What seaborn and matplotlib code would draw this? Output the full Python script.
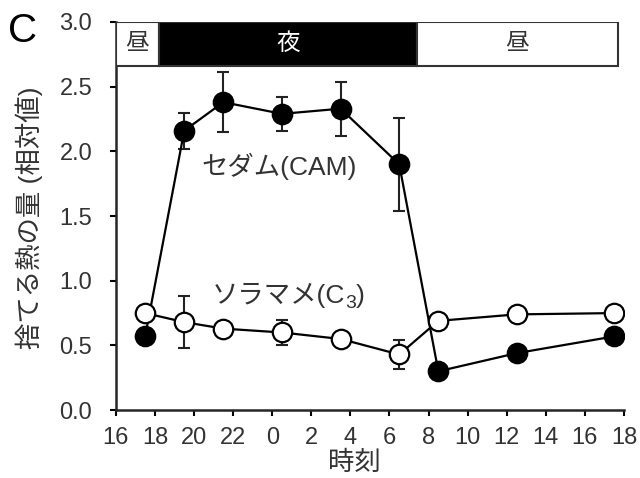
import numpy as np
import pandas as pd
import seaborn as sns
import matplotlib.pyplot as plt

# hours counted from 16:00 of day 1 (24 = midnight)
hours = [17.5, 19.5, 21.5, 24.5, 27.5, 30.5, 32.5, 36.5, 41.5]
cam = [0.57, 2.16, 2.38, 2.29, 2.33, 1.90, 0.30, 0.44, 0.57]
cam_err = [0, 0.14, 0.23, 0.13, 0.21, 0.36, 0, 0, 0]
c3 = [0.75, 0.68, 0.63, 0.60, 0.55, 0.43, 0.69, 0.74, 0.75]
c3_err = [0, 0.20, 0, 0.10, 0, 0.11, 0, 0, 0]

xticks = list(range(16, 43, 2))
xticklabels = [str(h % 24) for h in xticks]
yticks = [0.0, 0.5, 1.0, 1.5, 2.0, 2.5, 3.0]

# day / night bar at the top
period_start = [16, 18.2, 31.4]
period_end = [18.2, 31.4, 41.7]
period_label = ['昼', '夜', '昼']
period_dark = [False, True, False]

df = pd.DataFrame({'hour': hours * 2,
                   'value': cam + c3,
                   'err': cam_err + c3_err,
                   'plant': ['CAM'] * len(hours) + ['C3'] * len(hours)})

sns.set_style('ticks')
plt.rcParams['font.family'] = ['Liberation Sans', 'Noto Sans CJK JP']
txt = '#333333'

fig = plt.figure(figsize=(6.4, 4.78), dpi=100)
ax = fig.add_axes([0.181, 0.142, 0.794, 0.812])

styles = {'CAM': 'black', 'C3': 'white'}
for plant, face in styles.items():
    d = df[df.plant == plant]
    ax.errorbar(d.hour, d.value, yerr=d.err, fmt='none', ecolor='#222222',
                elinewidth=1.5, capsize=4.5, capthick=1.5, zorder=2)
    sns.lineplot(data=d, x='hour', y='value', ax=ax, color='black', lw=1.6,
                 marker='o', markersize=14, markerfacecolor=face,
                 markeredgecolor='black', markeredgewidth=1.6, zorder=3)

bar_lo, bar_hi = 2.66, 3.0
for s, e, lab, dark in zip(period_start, period_end, period_label, period_dark):
    ax.barh(y=(bar_lo + bar_hi) / 2, width=e - s, left=s, height=bar_hi - bar_lo,
            color='black' if dark else 'white', edgecolor='#333333', lw=1.5, zorder=4)
    ax.text((s + e) / 2, (bar_lo + bar_hi) / 2, lab, ha='center', va='center',
            fontsize=17, color='white' if dark else txt, zorder=5)

ax.text(20.4, 1.82, 'セダム(CAM)', fontsize=19, color=txt, ha='left', va='baseline')
# C3 with a real subscript, built from three pieces
t1 = ax.text(20.9, 0.83, 'ソラマメ(C', fontsize=19, color=txt, ha='left', va='baseline')
t2 = ax.annotate('3', xy=(1, 0.83), xycoords=(t1, 'data'), xytext=(0, -4),
                 textcoords='offset points', fontsize=14, color=txt,
                 ha='left', va='baseline')
ax.annotate(')', xy=(1, 0.83), xycoords=(t2, 'data'), fontsize=19, color=txt,
            ha='left', va='baseline')

ax.set_xlim(16, 42)
ax.set_ylim(0, 3.0)
ax.set_xticks(xticks)
ax.set_xticklabels(xticklabels)
ax.set_yticks(yticks)
ax.set_yticklabels([f'{v:.1f}' for v in yticks])
ax.tick_params(labelsize=17, labelcolor=txt, width=1.5, length=4, color='black')
ax.tick_params(axis='x', pad=8)
ax.tick_params(axis='y', pad=13)
for sp in ['left', 'bottom']:
    ax.spines[sp].set_linewidth(1.8)
sns.despine(ax=ax)

ax.set_xlabel('時刻', fontsize=19, color=txt)
ax.set_ylabel('捨てる熱の量 (相対値)', fontsize=19, color=txt)
ax.xaxis.set_label_coords(0.47, -0.105)
ax.yaxis.set_label_coords(-0.144, 0.495)

fig.text(0.012, 0.936, 'C', fontsize=29, color='black', ha='left', va='center')

fig.savefig('out.png', dpi=100)
